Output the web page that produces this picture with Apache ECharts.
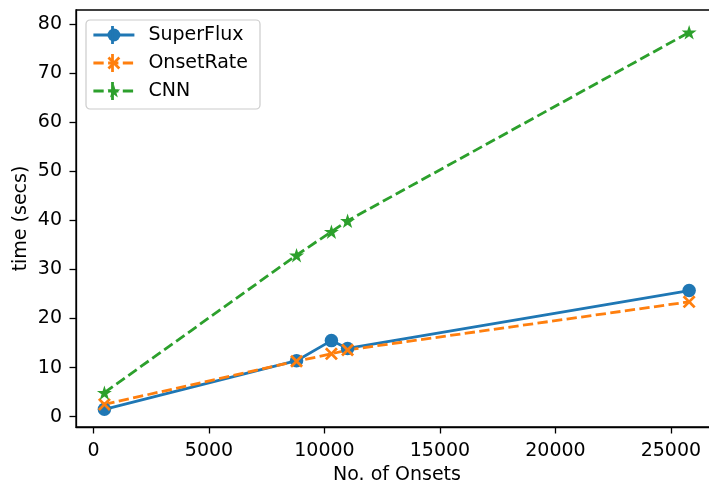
<!DOCTYPE html>
<html>
<head>
<meta charset="utf-8">
<script src="https://cdn.jsdelivr.net/npm/echarts@6/dist/echarts.min.js"></script>
<style>
  html, body { margin: 0; padding: 0; background: #fff; }
  #main { width: 709px; height: 484px; }
</style>
</head>
<body>
<div id="main"></div>
<script>
// onsets count (x) and run time in seconds (y) per method
const onsets = [470, 8790, 10300, 11000, 25790]
const superFlux = [1.5, 11.4, 15.5, 13.9, 25.7]
const onsetRate = [2.5, 11.3, 12.8, 13.6, 23.4]
const cnn = [4.9, 32.9, 37.7, 39.9, 78.3]

const xTicks = [0, 5000, 10000, 15000, 20000, 25000]
const yTicks = [0, 10, 20, 30, 40, 50, 60, 70, 80]

const names = ['SuperFlux', 'OnsetRate', 'CNN']
const colors = ['#1f77b4', '#ff7f0e', '#2ca02c']

const toPairs = ys => onsets.map((x, i) => [x, ys[i]])

// marker shapes
const xMarker = 'path://M0,1.5 L1.5,0 L5,3.5 L8.5,0 L10,1.5 L6.5,5 L10,8.5 L8.5,10 L5,6.5 L1.5,10 L0,8.5 L3.5,5 Z'
const starMarker = 'path://M10,0 L12.245,6.91 L19.511,6.91 L13.633,11.18 L15.878,18.09 L10,13.82 L4.122,18.09 L6.367,11.18 L0.489,6.91 L7.755,6.91 Z'

const font = 'DejaVu Sans'
const fs = 19
const dash = [10.3, 4.4]

// small vertical error-bar strokes shown in the legend handles
const legendBars = colors.map((c, i) => ({
  type: 'line', z: 200,
  shape: { x1: 112.5, y1: 26 + i * 28, x2: 112.5, y2: 44 + i * 28 },
  style: { stroke: c, lineWidth: 2.8 }
}))

const option = {
  animation: false,
  backgroundColor: '#fff',
  textStyle: { fontFamily: font },
  grid: {
    left: 76, top: 10, right: -9, bottom: 57,
    outerBoundsMode: 'none',
    show: true, borderColor: '#000', borderWidth: 1.3, backgroundColor: 'transparent'
  },
  legend: {
    orient: 'vertical',
    left: 86, top: 20,
    padding: [5, 12, 8, 6],
    itemWidth: 41, itemHeight: 16, itemGap: 8,
    backgroundColor: 'rgba(255,255,255,0.8)',
    borderColor: '#cccccc', borderWidth: 1.2, borderRadius: 4,
    lineStyle: { width: 2.8 },
    textStyle: { fontFamily: font, fontSize: fs, color: '#000', lineHeight: 20, padding: [0, 0, 0, 9] },
    data: names
  },
  graphic: legendBars,
  xAxis: {
    type: 'value',
    min: -760, max: 27040,
    name: 'No. of Onsets', nameLocation: 'middle', nameGap: 38,
    nameTextStyle: { fontFamily: font, fontSize: fs, color: '#000' },
    axisLine: { show: true, onZero: false, lineStyle: { color: '#000', width: 1.3 } },
    axisTick: { show: true, length: 6.5, lineStyle: { color: '#000', width: 1.3 }, customValues: xTicks },
    axisLabel: { fontFamily: font, fontSize: fs, color: '#000', margin: 15, customValues: xTicks, formatter: v => String(v) },
    splitLine: { show: false }
  },
  yAxis: {
    type: 'value',
    min: -2.1, max: 82.85,
    name: 'time (secs)', nameLocation: 'middle', nameGap: 45, nameMoveOverlap: false,
    nameTextStyle: { fontFamily: font, fontSize: fs, color: '#000' },
    axisLine: { show: true, onZero: false, lineStyle: { color: '#000', width: 1.3 } },
    axisTick: { show: true, length: 6.5, lineStyle: { color: '#000', width: 1.3 }, customValues: yTicks },
    axisLabel: { fontFamily: font, fontSize: fs, color: '#000', margin: 14, customValues: yTicks },
    splitLine: { show: false }
  },
  series: [
    {
      name: names[0], type: 'line', data: toPairs(superFlux),
      symbol: 'circle', symbolSize: 13.5, showAllSymbol: true,
      color: colors[0],
      lineStyle: { color: colors[0], width: 2.8 },
      itemStyle: { color: colors[0] }
    },
    {
      name: names[1], type: 'line', data: toPairs(onsetRate),
      symbol: xMarker, symbolSize: 13, showAllSymbol: true,
      color: colors[1],
      lineStyle: { color: colors[1], width: 2.8, type: dash },
      itemStyle: { color: colors[1] }
    },
    {
      name: names[2], type: 'line', data: toPairs(cnn),
      symbol: starMarker, symbolSize: [15, 14.5], showAllSymbol: true,
      color: colors[2],
      lineStyle: { color: colors[2], width: 2.8, type: dash },
      itemStyle: { color: colors[2] }
    }
  ]
}

const myChart = echarts.init(document.getElementById('main'), null, { renderer: 'canvas' })
myChart.setOption(option)
</script>
</body>
</html>
